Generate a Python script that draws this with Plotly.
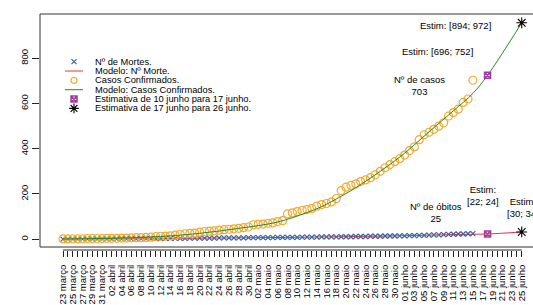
import datetime
import plotly.graph_objects as go

# ---------------- data ----------------
start = datetime.date(2020, 3, 23)
n_axis_days = 95
month_pt = {3: "março", 4: "abril", 5: "maio", 6: "junho"}
tick_days = list(range(n_axis_days))
tick_labels = []
for d in tick_days:
    dt = start + datetime.timedelta(days=d)
    tick_labels.append(f"{dt.day:02d} {month_pt[dt.month]}" if d % 2 == 0 else "")

obs_days = list(range(85))
cases = [1, 1, 2, 2, 2, 3, 3, 3, 3, 4,
         4, 4, 5, 5, 6, 7, 7, 8, 9, 12,
         13, 14, 15, 18, 22, 24, 26, 27, 31, 34,
         36, 37, 40, 42, 44, 46, 48, 51, 54, 64,
         66, 67, 70, 72, 78, 82, 112, 116, 122, 127,
         131, 136, 146, 153, 158, 165, 180, 215, 230, 238,
         245, 255, 262, 272, 285, 300, 316, 330, 343, 356,
         372, 392, 408, 440, 462, 473, 486, 500, 515, 545,
         560, 575, 605, 620, 703]
deaths = [0, 0, 0, 0, 0, 1, 1, 1, 1, 1,
          1, 1, 2, 2, 2, 2, 3, 3, 3, 3,
          3, 4, 4, 4, 4, 4, 5, 5, 5, 5,
          5, 5, 6, 6, 6, 6, 6, 6, 7, 7,
          7, 7, 7, 7, 8, 8, 8, 8, 8, 9,
          9, 9, 9, 10, 10, 10, 10, 11, 11, 11,
          12, 12, 12, 13, 13, 13, 14, 14, 14, 15,
          15, 16, 16, 17, 17, 18, 19, 19, 20, 21,
          22, 23, 23, 24, 25]

model_days = [0, 10, 20, 28, 36, 44, 50, 53, 57, 60, 65, 70, 75, 80, 84, 87, 94]
model_cases = [1, 4, 12, 26, 48, 76, 118, 144, 190, 228, 300, 380, 475, 568, 645, 725, 957]
model_deaths = [0.5, 1.5, 3, 4.5, 6, 7.5, 9, 10, 11, 12, 13.5, 15.5, 18, 20.5, 22, 23, 32]

est1_day, est1_cases, est1_deaths = 87, 725, 23
est2_day, est2_cases, est2_deaths = 94, 957, 32

legend_labels = ["Nº de Mortes.", "Modelo: Nº Morte.", "Casos Confirmados.",
                 "Modelo: Casos Confirmados.", "Estimativa de 10 junho para 17 junho.",
                 "Estimativa de 17 junho para 26 junho."]

# ---------------- styles ----------------
FONT = "Liberation Sans, Arial, sans-serif"
FS = 9.5
C_DEATH = "#3b64a0"
C_RED = "#e8333c"
C_CASE = "#f2aa30"
C_GREEN = "#228b22"
C_PURPLE = "#a03ca0"

W, H = 533, 305
L, T = 40, 14
BOX_BOTTOM = 247          # pixel row of the plot box bottom
AXIS_Y = 250              # pixel row where the x axis (ticks) starts
B = H - AXIS_Y
plot_h = AXIS_Y - T
dom0 = (AXIS_Y - BOX_BOTTOM) / plot_h

px0, px_per_day = 63.0, 4.88
py0, py_per_unit = 239.2, 0.2261
x_range = [(L - px0) / px_per_day, (W - px0) / px_per_day]
y_range = [(py0 - BOX_BOTTOM) / py_per_unit, (py0 - T) / py_per_unit]


def mk(symbol, size, color, width):
    return dict(symbol=symbol, size=size, color=color, line=dict(color=color, width=width))


fig = go.Figure()

fig.add_trace(go.Scatter(x=model_days, y=model_deaths, mode="lines", line_shape="spline",
                         line=dict(color=C_RED, width=1), showlegend=False, hoverinfo="skip"))
fig.add_trace(go.Scatter(x=obs_days, y=deaths, mode="markers",
                         marker=mk("x-thin-open", 5, C_DEATH, 1.2), showlegend=False))
fig.add_trace(go.Scatter(x=obs_days, y=cases, mode="markers",
                         marker=mk("circle-open", 8, C_CASE, 1.2), showlegend=False))
fig.add_trace(go.Scatter(x=model_days, y=model_cases, mode="lines", line_shape="spline",
                         line=dict(color=C_GREEN, width=1), showlegend=False, hoverinfo="skip"))
fig.add_trace(go.Scatter(x=[est1_day, est1_day], y=[est1_cases, est1_deaths], mode="markers",
                         marker=mk("square-x-open", 6, C_PURPLE, 1.5), showlegend=False))
fig.add_trace(go.Scatter(x=[est2_day, est2_day], y=[est2_cases, est2_deaths], mode="markers",
                         marker=mk("asterisk-open", 9, "black", 1.1), showlegend=False))

# ---- manual legend on pixel overlay axes ----
leg_rows = [61.7, 71.0, 80.4, 89.7, 99.1, 108.4]
sym_x, line_x0, line_x1, text_x = 74, 65, 83, 92.5
fig.add_trace(go.Scatter(x=[sym_x], y=[leg_rows[0]], xaxis="x2", yaxis="y2", mode="markers",
                         marker=mk("x-thin-open", 5, C_DEATH, 1.2), showlegend=False))
fig.add_trace(go.Scatter(x=[line_x0, line_x1], y=[leg_rows[1]] * 2, xaxis="x2", yaxis="y2", mode="lines",
                         line=dict(color=C_RED, width=1), showlegend=False))
fig.add_trace(go.Scatter(x=[sym_x], y=[leg_rows[2]], xaxis="x2", yaxis="y2", mode="markers",
                         marker=mk("circle-open", 6, C_CASE, 1.2), showlegend=False))
fig.add_trace(go.Scatter(x=[line_x0, line_x1], y=[leg_rows[3]] * 2, xaxis="x2", yaxis="y2", mode="lines",
                         line=dict(color=C_GREEN, width=1), showlegend=False))
fig.add_trace(go.Scatter(x=[sym_x], y=[leg_rows[4]], xaxis="x2", yaxis="y2", mode="markers",
                         marker=mk("square-x-open", 6, C_PURPLE, 1.5), showlegend=False))
fig.add_trace(go.Scatter(x=[sym_x], y=[leg_rows[5]], xaxis="x2", yaxis="y2", mode="markers",
                         marker=mk("asterisk-open", 8, "black", 1.1), showlegend=False))

annotations = []
for lab, yy in zip(legend_labels, leg_rows):
    annotations.append(dict(x=text_x, y=yy, xref="x2", yref="y2", text=lab, showarrow=False,
                            xanchor="left", yanchor="middle", font=dict(size=9.3, color="black", family=FONT)))

notes = [
    ("Estim: [894; 972]", 455, 25.0),
    ("Estim: [696; 752]", 437, 51.7),
    ("Nº de casos<br>703", 419, 85.8),
    ("Estim:<br>[22; 24]", 483, 195.5),
    ("Nº de óbitos<br>25", 436, 212.2),
    ("Estim:<br>[30; 34]", 523, 207.5),
]
for txt, xx, yy in notes:
    annotations.append(dict(x=xx, y=yy, xref="x2", yref="y2", text=txt, showarrow=False,
                            xanchor="center", yanchor="middle", align="center",
                            font=dict(size=FS, color="black", family=FONT)))

fig.update_layout(
    width=W, height=H,
    margin=dict(l=L, r=0, t=T, b=B, pad=0),
    paper_bgcolor="white", plot_bgcolor="white",
    font=dict(family=FONT, size=FS, color="black"),
    xaxis=dict(range=x_range, tickmode="array", tickvals=tick_days, ticktext=tick_labels,
               anchor="free", position=0,
               tickangle=-90, ticks="outside", ticklen=6, tickwidth=1, tickcolor="#222",
               ticklabelstandoff=4,
               showgrid=False, zeroline=False, showline=False, automargin=False,
               tickfont=dict(size=FS, family=FONT, color="black")),
    yaxis=dict(range=y_range, domain=[dom0, 1], tickmode="array", tickvals=[0, 200, 400, 600, 800],
               ticktext=["0", "200", "400", "600", "800"], tickangle=-90,
               ticks="outside", ticklen=7, tickwidth=1, tickcolor="#222",
               showgrid=False, zeroline=False, showline=False, automargin=False,
               tickfont=dict(size=FS, family=FONT, color="black")),
    xaxis2=dict(overlaying="x", range=[L, W], visible=False),
    yaxis2=dict(overlaying="y", range=[BOX_BOTTOM, T], visible=False),
    annotations=annotations,
    shapes=[
        dict(type="rect", xref="paper", yref="paper", x0=0, x1=1.1, y0=dom0, y1=1,
             line=dict(color="#333", width=1), layer="above"),
        dict(type="line", xref="x", yref="paper", x0=tick_days[0], x1=tick_days[-1], y0=0, y1=0,
             line=dict(color="#222", width=1), layer="above"),
    ],
)

fig.write_html("out.html",
               config={"displayModeBar": False},
               post_script="document.body.style.margin='0px';document.body.style.overflow='hidden';")
